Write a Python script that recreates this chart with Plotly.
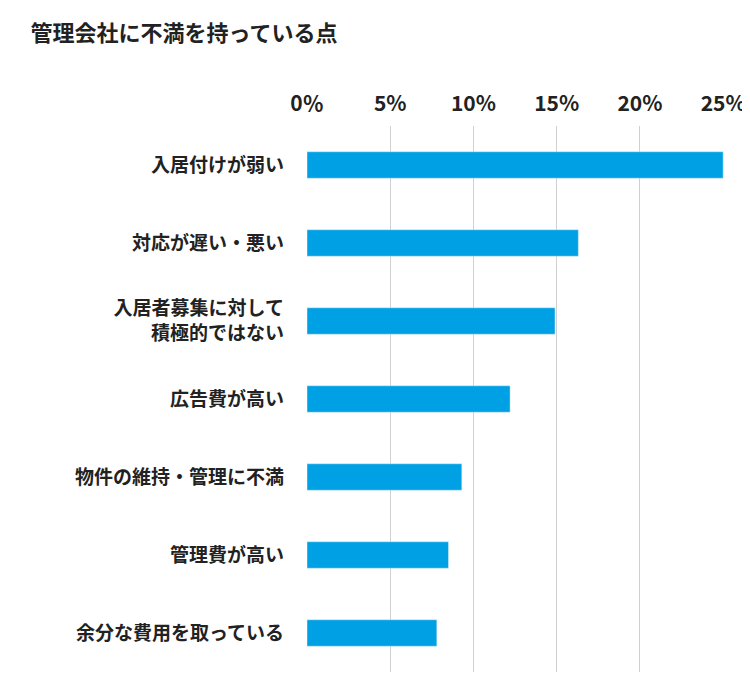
import plotly.graph_objects as go

# Reasons for dissatisfaction with the management company
categories = [
    "入居付けが弱い",
    "対応が遅い・悪い",
    "入居者募集に対して<br>積極的ではない",
    "広告費が高い",
    "物件の維持・管理に不満",
    "管理費が高い",
    "余分な費用を取っている",
]
values = [25.0, 16.3, 14.9, 12.2, 9.3, 8.5, 7.8]

tick_vals = [0, 5, 10, 15, 20, 25]
tick_text = ["<b>0％</b>", "<b>5%</b>", "<b>10%</b>", "<b>15%</b>", "<b>20%</b>", "<b>25%</b>"]

fig = go.Figure(go.Bar(
    x=values, y=["<b>" + c + "</b>" for c in categories], orientation="h",
    marker_color="#00a0e4", width=0.34,
))

fig.update_layout(
    width=750, height=694,
    margin=dict(l=299, r=30, t=118, b=30),
    plot_bgcolor="white", paper_bgcolor="white",
    font=dict(family="Noto Sans CJK JP", size=19, color="#222"),
    title=dict(text="<b>管理会社に不満を持っている点</b>", x=0.03, y=0.975,
               xanchor="left", font=dict(size=22)),
    showlegend=False,
)
fig.update_xaxes(
    side="top", range=[0, 25.05], tickvals=tick_vals, ticktext=tick_text,
    showgrid=True, gridcolor="#d0d0d0", gridwidth=1, zeroline=False,
    tickfont=dict(size=21, family="Noto Sans CJK JP"), ticks="", ticklabelstandoff=10,
)
fig.update_yaxes(
    autorange="reversed", showgrid=False, ticks="",
    tickfont=dict(size=19), ticklabelstandoff=22,
)

fig.write_html("out.html")
